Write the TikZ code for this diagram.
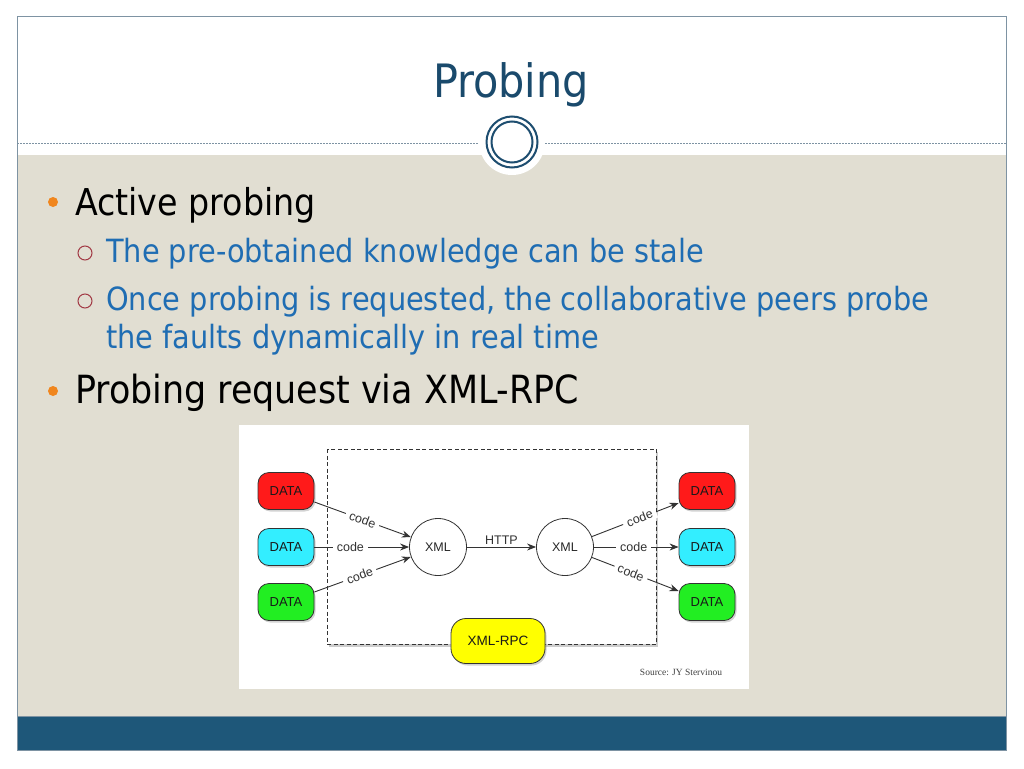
\documentclass[tikz,border=0pt]{standalone}
\usepackage{fontspec}
\setmainfont{DejaVu Sans Condensed}
\newfontfamily\diagfont{Liberation Sans}
\newfontfamily\srcfont{Liberation Serif}
\usetikzlibrary{arrows.meta,shadows}
\definecolor{beige}{HTML}{E1DED2}
\definecolor{band}{HTML}{1E5779}
\definecolor{framec}{HTML}{7E93A3}
\definecolor{titlec}{HTML}{1A4A6C}
\definecolor{ringc}{HTML}{1E4E70}
\definecolor{subc}{HTML}{1F6DB3}
\definecolor{bulo}{HTML}{F0861E}
\definecolor{bulr}{HTML}{A23A45}
\definecolor{dred}{HTML}{FF1A1A}
\definecolor{dcyan}{HTML}{33EEFF}
\definecolor{dgreen}{HTML}{22EE22}
\definecolor{dyel}{HTML}{FFFF00}
\definecolor{lnc}{HTML}{333333}
\tikzset{
  databox/.style={draw=lnc, line width=0.8pt, rounded corners=11pt, minimum width=56pt, minimum height=37pt, inner sep=0pt, font=\diagfont\fontsize{13}{14}\selectfont, text=black!90, drop shadow={shadow xshift=1.5pt, shadow yshift=-2pt, opacity=0.35}},
  xmlnode/.style={circle, draw=lnc, line width=0.8pt, fill=white, minimum size=57pt, inner sep=0pt, font=\diagfont\fontsize{12.5}{13}\selectfont, text=black!85},
  arr/.style={draw=lnc, line width=0.9pt, -{Stealth[length=9pt,width=7pt]}},
  lbl/.style={fill=white, inner xsep=4pt, inner ysep=1.5pt, font=\diagfont\fontsize{12.5}{13}\selectfont, text=black!80},
  mainbul/.style={circle, fill=bulo, minimum size=10pt, inner sep=0pt},
  subbul/.style={circle, draw=bulr, line width=1pt, minimum size=14pt, inner sep=0pt},
  maintxt/.style={anchor=base west, inner sep=0pt, font=\fontsize{37}{40}\selectfont, text=black},
  subtxt/.style={anchor=base west, inner sep=0pt, font=\fontsize{32}{34}\selectfont, text=subc},
}
\begin{document}
\begin{tikzpicture}[x=1pt,y=-1pt]
\useasboundingbox (0,0) rectangle (1024,768);
\fill[white] (0,0) rectangle (1024,768);
% slide regions
\fill[beige] (17,155) rectangle (1006,716);
\fill[band] (17,716) rectangle (1006,750);
\draw[framec, line width=1pt] (17,17) rectangle (1006,750);
\draw[framec, line width=0.6pt] (17,716) -- (1006,716);
\draw[framec, line width=1pt, dash pattern=on 2pt off 1pt] (17,143) -- (1006,143);
% title ornament
\fill[white] (512,142) circle (33);
\draw[ringc, line width=2pt] (512,142) circle (25.5);
\draw[ringc, line width=2pt] (512,142) circle (20.5);
\node[anchor=base, inner sep=0pt, font=\fontsize{46}{50}\selectfont, text=titlec] (title) at (511,97) {Probing};
% bullets
\node[mainbul] (b1) at (53,202) {};
\node[maintxt] (t1) at (75,215) {Active probing};
\node[subbul] (s1) at (85,253) {};
\node[subtxt] (t2) at (106,262) {The pre-obtained knowledge can be stale};
\node[subbul] (s2) at (85,301) {};
\node[subtxt] (t3) at (106,310) {Once probing is requested, the collaborative peers probe};
\node[subtxt] (t4) at (106,348) {the faults dynamically in real time};
\node[mainbul] (b2) at (53,391) {};
\node[maintxt, font=\fontsize{38.8}{40}\selectfont] (t5) at (75,403) {Probing request via XML-RPC};
% diagram image
\fill[white] (239,425) rectangle (749,689);
\draw[lnc, line width=0.9pt, dash pattern=on 4pt off 2.5pt, fill=white, drop shadow={shadow xshift=2pt, shadow yshift=-3pt, opacity=0.4}] (327,449) rectangle (656,644);
\node[databox, fill=dred] (dl1) at (286,491) {DATA};
\node[databox, fill=dcyan] (dl2) at (286,547) {DATA};
\node[databox, fill=dgreen] (dl3) at (286,602) {DATA};
\node[databox, fill=dred] (dr1) at (707,491) {DATA};
\node[databox, fill=dcyan] (dr2) at (707,547) {DATA};
\node[databox, fill=dgreen] (dr3) at (707,602) {DATA};
\node[xmlnode] (xl) at (438,547) {XML};
\node[xmlnode] (xr) at (565,547) {XML};
\node[databox, fill=dyel, minimum width=94pt, minimum height=45pt, rounded corners=15pt, font=\diagfont\fontsize{13.5}{14}\selectfont] (rpc) at (498,641) {XML-RPC};
\draw[arr] ([yshift=-11pt]dl1.east) -- node[lbl, sloped, pos=0.5] {code} (xl);
\draw[arr] (dl2.east) -- node[lbl, pos=0.38] {code} (xl);
\draw[arr] ([yshift=10pt]dl3.east) -- node[lbl, sloped, pos=0.47] {code} (xl);
\draw[arr] (xl) -- node[lbl, fill=none, above=1pt, pos=0.5] {HTTP} (xr);
\draw[arr] (xr) -- node[lbl, sloped, pos=0.55] {code} ([yshift=-12pt]dr1.west);
\draw[arr] (xr) -- node[lbl, pos=0.47] {code} (dr2.west);
\draw[arr] (xr) -- node[lbl, sloped, pos=0.45] {code} ([yshift=11pt]dr3.west);
\node[anchor=base, inner sep=0pt, font=\srcfont\fontsize{9.5}{10}\selectfont, text=black!75] (src) at (681,675) {Source: JY Stervinou};
\end{tikzpicture}
\end{document}
